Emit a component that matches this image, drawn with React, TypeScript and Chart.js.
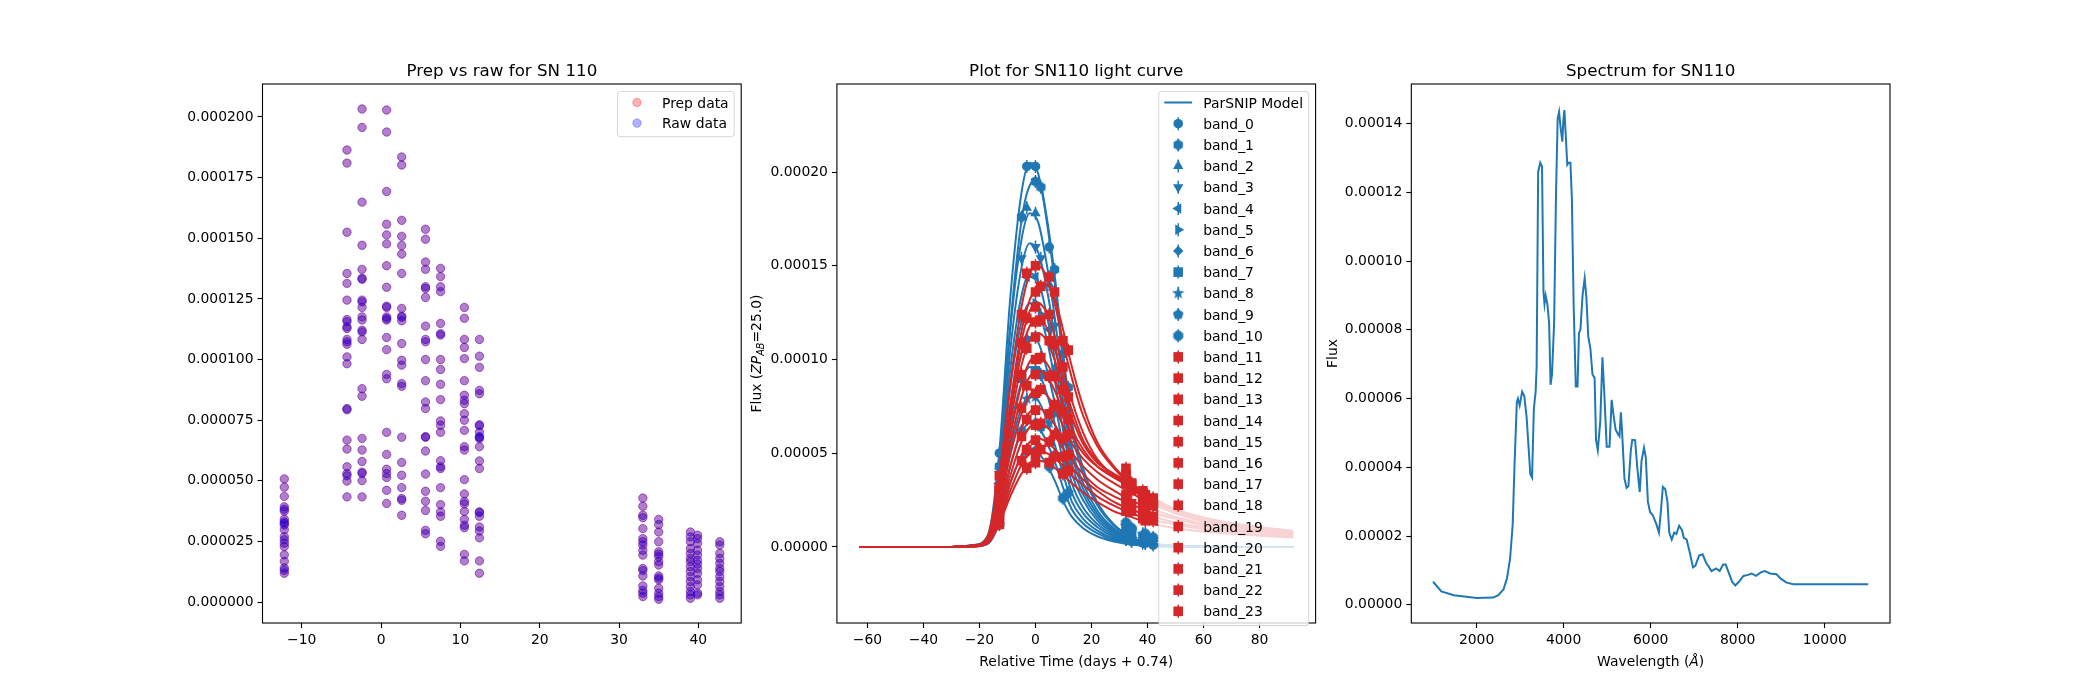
import React, { useEffect, useRef } from 'react';
import { Chart, registerables } from 'chart.js';
import { drawPoint } from 'chart.js/helpers';

Chart.register(...registerables);

const FONT = '"DejaVu Sans", sans-serif';
const C_BLUE = '#1f77b4';
const C_RED = '#d62728';
const FLUX_UNIT = 1e-5; // every flux list below is in units of 1e-5

// ---------- panel 1: prep vs raw ----------
const PREP_TIMES = [-12.2, -4.3, -2.4, 0.7, 2.6, 5.6, 7.5, 10.5, 12.4, 33.0, 35.0, 39.0, 39.9, 42.7];
const RAW_FLUX: number[][] = [
  [5.08, 4.74, 4.36, 3.93, 3.83, 3.75, 3.42, 3.31, 3.25, 3.18, 2.98, 2.7, 2.57, 2.43, 2.29, 1.95, 1.68, 1.41, 1.31, 1.19],
  [18.64, 18.1, 15.25, 13.55, 13.14, 12.45, 11.65, 11.56, 11.35, 11.28, 10.83, 10.73, 10.63, 10.11, 9.83, 7.98, 7.93, 6.68, 6.31, 5.58, 5.3, 5.21, 4.99, 4.34],
  [20.33, 19.57, 16.49, 14.71, 13.72, 13.35, 13.31, 12.45, 12.38, 12.15, 11.76, 11.63, 11.21, 11.14, 10.83, 8.8, 8.49, 6.75, 6.27, 5.8, 5.36, 5.3, 5.01, 4.34],
  [20.29, 19.38, 16.93, 15.58, 15.14, 14.77, 13.87, 12.98, 12.2, 12.15, 11.76, 11.69, 11.63, 10.91, 10.41, 9.39, 9.21, 7.0, 6.09, 5.48, 5.3, 5.14, 4.61, 4.07],
  [18.35, 18.02, 15.74, 15.08, 14.7, 14.35, 13.55, 12.11, 11.79, 11.74, 11.6, 10.66, 9.97, 9.77, 9.01, 8.9, 6.8, 5.76, 5.23, 4.72, 4.27, 4.2, 3.58],
  [15.37, 14.96, 14.02, 13.72, 13.0, 12.93, 12.56, 11.38, 10.83, 10.73, 10.0, 9.13, 8.25, 7.98, 6.82, 6.8, 6.23, 5.28, 4.57, 4.16, 3.78, 2.96, 2.82],
  [13.76, 13.42, 13.0, 12.8, 11.49, 11.07, 11.01, 10.0, 9.59, 8.98, 8.35, 7.47, 7.29, 7.0, 5.83, 5.58, 5.51, 4.72, 4.02, 3.72, 3.54, 2.51, 2.3],
  [12.15, 11.7, 10.83, 10.5, 10.04, 9.13, 8.53, 8.32, 8.18, 7.77, 7.5, 7.08, 6.41, 6.27, 5.05, 4.46, 4.15, 4.05, 3.74, 3.41, 3.17, 3.07, 1.97, 1.7],
  [10.83, 10.14, 9.68, 8.73, 8.59, 7.31, 7.27, 7.01, 6.82, 6.8, 6.74, 6.41, 5.82, 5.51, 3.72, 3.7, 3.54, 3.1, 2.93, 2.65, 1.7, 1.19],
  [4.29, 3.95, 3.58, 3.48, 3.03, 2.62, 2.49, 2.35, 2.14, 1.94, 1.39, 1.3, 1.08, 0.67, 0.48, 0.37, 0.23],
  [3.41, 3.2, 2.89, 2.49, 2.08, 1.98, 1.87, 1.67, 1.53, 1.08, 0.99, 0.92, 0.57, 0.37, 0.23, 0.12],
  [2.89, 2.69, 2.49, 2.21, 2.01, 1.8, 1.67, 1.46, 1.26, 1.05, 0.85, 0.64, 0.44, 0.3, 0.16],
  [2.76, 2.62, 2.42, 2.14, 1.94, 1.73, 1.57, 1.39, 1.19, 0.92, 0.71, 0.37, 0.3],
  [2.49, 2.35, 2.01, 1.8, 1.6, 1.39, 1.26, 1.05, 0.85, 0.64, 0.44, 0.3, 0.16],
];
// the preprocessed fluxes sit exactly on the raw ones in this plot
const PREP_FLUX = RAW_FLUX;
const PREP_X_RANGE = [-14.95, 45.4];
const PREP_Y_RANGE = [-0.0000086, 0.0002136];
const PREP_X_TICKS = [-10, 0, 10, 20, 30, 40];
const PREP_Y_TICKS = [0, 0.000025, 0.00005, 0.000075, 0.0001, 0.000125, 0.00015, 0.000175, 0.0002];

// ---------- panel 2: light curve ----------
const MODEL_TIMES = [-63, -30, -22, -17, -13, -9, -5, -2, 1, 4, 7, 10, 13, 17, 22, 28, 34, 40, 50, 65, 80, 92];
const MODEL_FLUX: number[][] = [
  [0, 0, 0.1, 0.62, 4.92, 13.3, 18.9, 20.5, 19.9, 17.4, 13.9, 9.6, 6.2, 3.9, 2.25, 1.13, 0.51, 0.2, 0.06, 0, 0, 0],
  [0, 0, 0.08, 0.5, 4.2, 11.8, 17.4, 19.3, 19.6, 17.6, 14.3, 10.2, 6.7, 4.2, 2.4, 1.2, 0.55, 0.22, 0.07, 0, 0, 0],
  [0, 0, 0.09, 0.53, 4.27, 11.6, 16.4, 17.8, 17.3, 15.1, 12.1, 8.4, 5.3, 3.4, 1.96, 0.98, 0.45, 0.18, 0.05, 0, 0, 0],
  [0, 0, 0.08, 0.49, 3.89, 10.5, 14.9, 16.2, 15.7, 13.8, 11.0, 7.6, 4.9, 3.1, 1.78, 0.89, 0.41, 0.16, 0.05, 0, 0, 0],
  [0, 0, 0.07, 0.44, 3.5, 9.5, 13.4, 14.6, 14.2, 12.4, 9.9, 6.9, 4.4, 2.8, 1.6, 0.8, 0.37, 0.15, 0.04, 0, 0, 0],
  [0, 0, 0.07, 0.39, 3.12, 8.5, 12.0, 13.0, 12.6, 11.1, 8.8, 6.1, 3.9, 2.5, 1.43, 0.72, 0.33, 0.13, 0.04, 0, 0, 0],
  [0, 0, 0.06, 0.34, 2.69, 7.3, 10.3, 11.2, 10.9, 9.5, 7.6, 5.3, 3.4, 2.1, 1.23, 0.62, 0.28, 0.11, 0.03, 0, 0, 0],
  [0, 0, 0.05, 0.29, 2.3, 6.2, 8.8, 9.6, 9.3, 8.2, 6.5, 4.5, 2.9, 1.8, 1.06, 0.53, 0.24, 0.1, 0.03, 0, 0, 0],
  [0, 0, 0.04, 0.24, 1.92, 5.2, 7.4, 8.0, 7.8, 6.8, 5.4, 3.8, 2.4, 1.5, 0.88, 0.44, 0.2, 0.08, 0.02, 0, 0, 0],
  [0, 0, 0.03, 0.2, 1.58, 4.3, 6.1, 6.6, 6.4, 5.6, 4.5, 3.1, 2.0, 1.25, 0.73, 0.36, 0.17, 0.07, 0.02, 0, 0, 0],
  [0, 0, 0.03, 0.16, 1.25, 3.4, 4.8, 5.2, 5.0, 4.4, 3.5, 2.4, 1.6, 1.0, 0.57, 0.29, 0.13, 0.05, 0.02, 0, 0, 0],
  [0, 0, 0.08, 0.6, 3.75, 8.7, 12.8, 14.6, 15.0, 14.4, 12.9, 10.8, 9.0, 7.0, 5.4, 4.2, 3.3, 2.6, 1.8, 1.2, 0.9, 0.7],
  [0, 0, 0.07, 0.5, 3.2, 7.6, 11.5, 13.2, 13.9, 14.0, 13.2, 11.5, 9.6, 7.5, 5.6, 4.3, 3.4, 2.7, 1.9, 1.3, 0.95, 0.75],
  [0, 0, 0.07, 0.5, 3.2, 7.5, 11.0, 12.6, 13.0, 12.5, 11.2, 9.4, 7.8, 6.1, 4.7, 3.8, 3.1, 2.5, 1.8, 1.2, 0.9, 0.7],
  [0, 0, 0.06, 0.5, 3.0, 7.0, 10.4, 11.8, 12.2, 11.7, 10.5, 8.8, 7.3, 5.7, 4.6, 3.8, 3.2, 2.6, 1.9, 1.3, 1.0, 0.8],
  [0, 0, 0.06, 0.45, 2.8, 6.6, 9.7, 11.0, 11.4, 11.0, 9.9, 8.3, 6.9, 5.5, 4.5, 3.9, 3.4, 2.8, 2.0, 1.4, 1.05, 0.85],
  [0, 0, 0.05, 0.4, 2.5, 5.9, 8.7, 9.9, 10.2, 9.8, 8.9, 7.5, 6.3, 5.2, 4.3, 3.7, 3.2, 2.6, 1.9, 1.3, 1.0, 0.8],
  [0, 0, 0.05, 0.38, 2.4, 5.5, 8.0, 9.1, 9.4, 9.1, 8.3, 7.1, 6.0, 5.0, 4.3, 3.8, 3.3, 2.7, 2.0, 1.4, 1.05, 0.85],
  [0, 0, 0.04, 0.34, 2.1, 4.9, 7.1, 8.1, 8.4, 8.1, 7.4, 6.4, 5.5, 4.7, 4.0, 3.4, 2.9, 2.4, 1.8, 1.3, 1.0, 0.8],
  [0, 0, 0.04, 0.3, 1.9, 4.3, 6.3, 7.2, 7.4, 7.1, 6.5, 5.7, 5.0, 4.3, 3.6, 3.0, 2.5, 2.1, 1.6, 1.1, 0.85, 0.7],
  [0, 0, 0.03, 0.27, 1.7, 3.8, 5.6, 6.4, 6.6, 6.4, 5.9, 5.2, 4.6, 3.9, 3.2, 2.7, 2.3, 1.9, 1.5, 1.0, 0.8, 0.65],
  [0, 0, 0.03, 0.24, 1.5, 3.4, 4.9, 5.6, 5.8, 5.6, 5.2, 4.7, 4.2, 3.6, 3.0, 2.4, 2.0, 1.7, 1.3, 0.95, 0.75, 0.6],
  [0, 0, 0.03, 0.22, 1.3, 3.0, 4.4, 5.0, 5.2, 5.0, 4.7, 4.3, 3.8, 3.3, 2.7, 2.2, 1.8, 1.5, 1.2, 0.85, 0.65, 0.55],
  [0, 0, 0.02, 0.2, 1.2, 2.7, 3.9, 4.5, 4.6, 4.5, 4.2, 3.8, 3.4, 2.9, 2.4, 1.9, 1.6, 1.3, 1.0, 0.75, 0.6, 0.5],
];
const OBS_TIMES = [-12.9, -5.0, -3.1, 0.0, 1.9, 4.9, 6.8, 9.8, 11.7, 32.3, 34.3, 38.3, 39.2, 42.0];
const OBS_FLUX: (number | null)[][] = [
  [5.0, null, 20.3, 20.3, null, 16.0, null, 10.3, null, 0.4, null, 0.2, null, 0.1],
  [4.3, 17.6, null, 19.5, 19.2, null, 14.8, null, 8.5, 0.4, 0.3, null, 0.2, null],
  [4.3, null, 18.1, 17.8, null, 14.0, null, 8.9, null, 0.5, null, 0.3, 0.2, 0.2],
  [3.9, 15.4, null, 16.0, 15.4, null, 11.8, null, 7.2, 0.6, 0.4, null, null, 0.2],
  [3.4, null, 14.4, 14.4, null, 11.6, null, 7.4, null, 0.7, null, 0.4, 0.3, null],
  [3.1, 12.2, null, 13.0, 12.4, null, 9.5, null, 5.6, null, 0.5, 0.4, null, 0.3],
  [2.7, null, 11.1, 11.2, null, 9.1, null, 5.6, null, 0.9, null, 0.5, 0.4, 0.3],
  [2.3, 9.0, null, 9.4, 9.2, null, 7.2, null, 4.3, 1.0, 0.8, null, 0.5, null],
  [1.9, null, 7.9, 8.0, null, 6.6, null, 4.1, null, 1.1, null, 0.7, null, 0.4],
  [1.6, 6.2, null, 6.6, 6.4, null, 4.9, null, 2.9, null, 0.9, 0.6, 0.6, null],
  [1.2, null, 5.1, 5.1, null, 4.3, null, 2.6, null, 1.3, 1.0, null, 0.7, 0.5],
  [3.8, null, 14.6, 15.0, null, 14.4, null, 11.0, null, 3.5, null, 2.8, null, 2.4],
  [3.2, 12.4, null, 13.6, 13.9, null, 13.6, null, 10.5, null, 3.4, null, 2.7, null],
  [3.1, null, 12.2, 12.8, null, 12.4, null, 9.6, null, 3.4, null, 2.6, null, 2.3],
  [3.0, 10.9, null, 12.0, 12.1, null, 10.8, null, 8.0, null, 3.3, 2.8, null, 2.5],
  [2.8, null, 10.6, 11.2, null, 11.0, null, 8.4, null, 3.8, null, 2.9, 2.8, null],
  [2.5, 9.2, null, 10.0, 10.1, null, 9.1, null, 6.8, 3.9, 3.4, null, 2.7, null],
  [2.4, null, 8.6, 9.2, null, 9.1, null, 7.2, null, 4.2, null, 3.0, null, 2.6],
  [2.1, 7.4, null, 8.2, 8.4, null, 7.6, null, 6.0, null, 3.0, 2.5, null, 2.2],
  [1.9, null, 6.8, 7.3, null, 7.1, null, 5.8, null, 2.8, null, 2.2, 2.1, null],
  [1.7, 5.9, null, 6.5, 6.6, null, 6.0, null, 4.9, 2.6, 2.3, null, 1.9, null],
  [1.5, null, 5.2, 5.7, null, 5.6, null, 4.8, null, 2.3, null, 1.8, null, 1.6],
  [1.3, 4.6, null, 5.0, 5.2, null, 4.8, null, 4.1, null, 1.9, 1.6, null, 1.4],
  [1.2, null, 4.2, 4.5, null, 4.5, null, 3.9, null, 1.9, null, 1.5, 1.4, null],
];
const OBS_ERR = 0.35;
const BAND_NAMES = MODEL_FLUX.map((_, i) => `band_${i}`);
const BAND_MARKERS = ['o', 'h', '^', 'v', '<', '>', 'd', 's', '*', 'p', '8', 's', 's', 's', 's', 's', 's', 's', 's', 's', 's', 's', 's', 's'];
const BLUE_BANDS = 11;
const LC_X_RANGE = [-70.9, 100];
const LC_Y_RANGE = [-0.0000406, 0.000247];
const LC_X_TICKS = [-60, -40, -20, 0, 20, 40, 60, 80];
const LC_Y_TICKS = [0, 0.00005, 0.0001, 0.00015, 0.0002];

// ---------- panel 3: spectrum ----------
const SPEC_WAVE = [
  1000, 1190, 1480, 2000, 2380, 2500, 2620, 2700, 2770, 2830,
  2870, 2925, 2950, 2990, 3047, 3096, 3150, 3235, 3275, 3316,
  3357, 3380, 3415, 3463, 3504, 3537, 3561, 3586, 3627, 3667,
  3700, 3733, 3782, 3823, 3863, 3896, 3929, 3970, 3994, 4018,
  4043, 4084, 4116, 4157, 4190, 4231, 4280, 4320, 4353, 4386,
  4435, 4484, 4525, 4566, 4615, 4663, 4712, 4745, 4786, 4843,
  4892, 4933, 4990, 5055, 5104, 5153, 5194, 5251, 5284, 5316,
  5341, 5398, 5447, 5488, 5545, 5578, 5643, 5692, 5749, 5790,
  5847, 5888, 5937, 5986, 6051, 6133, 6190, 6239, 6280, 6337,
  6386, 6427, 6484, 6541, 6590, 6655, 6720, 6761, 6826, 6892,
  6973, 7030, 7112, 7194, 7275, 7398, 7504, 7586, 7667, 7724,
  7790, 7871, 7945, 8027, 8133, 8239, 8320, 8418, 8541, 8622,
  8745, 8892, 8990, 9112, 9275, 9888, 11000,
];
const SPEC_FLUX = [
  0.67, 0.39, 0.28, 0.2, 0.21, 0.28, 0.45, 0.78, 1.34, 2.34,
  4.0, 5.9, 6.0, 5.8, 6.2, 6.07, 5.46, 3.8, 3.7, 5.7,
  6.2, 6.9, 12.6, 12.86, 12.75, 9.1, 8.75, 9.0, 8.75, 8.2,
  6.4, 6.7, 8.2, 11.8, 14.14, 14.34, 13.9, 13.47, 14.09, 14.39,
  13.8, 12.8, 12.86, 12.86, 11.8, 8.7, 6.35, 6.35, 7.9, 8.0,
  9.0, 9.5, 8.9, 7.8, 7.46, 6.7, 6.6, 4.8, 4.5, 5.35,
  7.2, 6.2, 4.6, 4.6, 5.96, 5.46, 5.1, 4.96, 4.9, 5.6,
  5.1, 3.67, 3.4, 3.45, 4.5, 4.8, 4.79, 4.0, 3.28, 4.18,
  4.57, 4.29, 3.0, 2.7, 2.6, 2.34, 2.1, 2.78, 3.43, 3.36,
  3.0, 2.1, 1.9, 2.1, 2.06, 2.3, 2.17, 1.95, 1.9, 1.56,
  1.09, 1.14, 1.43, 1.47, 1.22, 0.98, 1.06, 0.98, 1.17, 1.17,
  0.95, 0.67, 0.56, 0.67, 0.84, 0.87, 0.91, 0.84, 0.95, 0.98,
  0.91, 0.89, 0.76, 0.65, 0.6, 0.6, 0.6,
];
const SPEC_X_RANGE = [500, 11500];
const SPEC_Y_RANGE = [-0.0000053, 0.0001515];
const SPEC_X_TICKS = [2000, 4000, 6000, 8000, 10000];
const SPEC_Y_TICKS = [0, 0.00002, 0.00004, 0.00006, 0.00008, 0.0001, 0.00012, 0.00014];

// ---------- layout (matplotlib default subplot box for a 21x7 in figure) ----------
const CANVAS_TOP = 40;
const CANVAS_H = 650;
const AX_TOP = 84;
const AX_BOTTOM = 623;
const TICK_FONT = 13.9;

type Seg = { text: string; italic?: boolean; sub?: boolean };
type LegendEntry = { label: string; handle: (ctx: CanvasRenderingContext2D, x: number, y: number) => void };
type Geom = { canvasLeft: number; width: number; yAxisW: number; xAxisH: number; padTop: number; padRight: number };

function geometry(canvasLeft: number, axLeft: number, axRight: number): Geom {
  const width = Math.ceil(axRight + 20 - canvasLeft);
  return {
    canvasLeft,
    width,
    yAxisW: axLeft - canvasLeft,
    xAxisH: CANVAS_TOP + CANVAS_H - AX_BOTTOM,
    padTop: AX_TOP - CANVAS_TOP,
    padRight: width - (axRight - canvasLeft),
  };
}

const fmt = (v: number, d: number) => v.toFixed(d).replace('-', '\u2212');

function axis(which: 'x' | 'y', range: number[], ticks: number[], decimals: number, g: Geom) {
  return {
    type: 'linear',
    position: which === 'x' ? 'bottom' : 'left',
    min: range[0],
    max: range[1],
    afterBuildTicks: (s: any) => {
      s.ticks = ticks.map((v) => ({ value: v }));
    },
    afterFit: (s: any) => {
      if (which === 'x') s.height = g.xAxisH;
      else s.width = g.yAxisW;
    },
    ticks: {
      color: '#000',
      font: { family: FONT, size: TICK_FONT },
      padding: 4,
      autoSkip: false,
      maxRotation: 0,
      minRotation: 0,
      callback: (v: any) => fmt(Number(v), decimals),
    },
    grid: { display: true, drawOnChartArea: false, drawTicks: true, tickLength: 5, tickWidth: 1.1, tickColor: '#000', color: '#000' },
    border: { display: false },
  };
}

function drawRich(ctx: CanvasRenderingContext2D, segs: Seg[], x: number, y: number, size: number, vertical: boolean) {
  ctx.save();
  ctx.translate(x, y);
  if (vertical) ctx.rotate(-Math.PI / 2);
  const fontOf = (s: Seg) => `${s.italic ? 'italic ' : ''}${s.sub ? size * 0.7 : size}px ${FONT}`;
  const widths = segs.map((s) => {
    ctx.font = fontOf(s);
    return ctx.measureText(s.text).width;
  });
  let cx = -widths.reduce((a, b) => a + b, 0) / 2;
  ctx.fillStyle = '#000';
  ctx.textAlign = 'left';
  ctx.textBaseline = 'alphabetic';
  segs.forEach((s, i) => {
    ctx.font = fontOf(s);
    ctx.fillText(s.text, cx, size * 0.36 + (s.sub ? size * 0.22 : 0));
    cx += widths[i];
  });
  ctx.restore();
}

function drawLegend(ctx: CanvasRenderingContext2D, area: any, entries: LegendEntry[], rowH: number) {
  const pad = 5.6, handleW = 27.8, gap = 11.1;
  ctx.save();
  ctx.font = `${TICK_FONT}px ${FONT}`;
  const textW = Math.max(...entries.map((e) => ctx.measureText(e.label).width));
  const w = pad + handleW + gap + textW + pad;
  const h = entries.length * rowH + 4;
  const right = area.right - 7;
  const top = area.top + 7.5;
  const left = right - w;
  ctx.beginPath();
  ctx.roundRect(left, top, w, h, 2.8);
  ctx.fillStyle = 'rgba(255,255,255,0.8)';
  ctx.fill();
  ctx.strokeStyle = 'rgba(204,204,204,0.8)';
  ctx.lineWidth = 1;
  ctx.stroke();
  entries.forEach((e, i) => {
    const y = top + 11 + i * rowH;
    ctx.save();
    e.handle(ctx, left + pad + handleW / 2, y);
    ctx.restore();
    ctx.fillStyle = '#000';
    ctx.font = `${TICK_FONT}px ${FONT}`;
    ctx.textAlign = 'left';
    ctx.textBaseline = 'alphabetic';
    ctx.fillText(e.label, left + pad + handleW + gap, y + 5);
  });
  ctx.restore();
}

function framePlugin(opts: { title: string; xLabel?: Seg[]; yLabel?: Seg[]; yLabelOffset?: number; legend?: LegendEntry[]; legendRow?: number }) {
  return {
    id: 'mplFrame',
    beforeDatasetDraw(chart: any, args: any) {
      const ds = chart.data.datasets[args.index];
      if (!ds.errorY) return;
      const ctx = chart.ctx;
      const yScale = chart.scales.y;
      const meta = chart.getDatasetMeta(args.index);
      ctx.save();
      ctx.strokeStyle = ds.pointBackgroundColor;
      ctx.lineWidth = 1.5;
      meta.data.forEach((pt: any, k: number) => {
        const v = ds.data[k].y;
        ctx.beginPath();
        ctx.moveTo(pt.x, yScale.getPixelForValue(v - ds.errorY));
        ctx.lineTo(pt.x, yScale.getPixelForValue(v + ds.errorY));
        ctx.stroke();
      });
      ctx.restore();
    },
    afterDatasetsDraw(chart: any) {
      const { ctx, chartArea: a } = chart;
      ctx.save();
      ctx.strokeStyle = '#000';
      ctx.lineWidth = 1.1;
      ctx.strokeRect(a.left, a.top, a.right - a.left, a.bottom - a.top);
      ctx.restore();
      if (opts.legend) drawLegend(ctx, a, opts.legend, opts.legendRow || 20.8);
    },
    afterDraw(chart: any) {
      const { ctx, chartArea: a } = chart;
      ctx.save();
      ctx.fillStyle = '#000';
      ctx.font = `16.7px ${FONT}`;
      ctx.textAlign = 'center';
      ctx.textBaseline = 'alphabetic';
      ctx.fillText(opts.title, (a.left + a.right) / 2, a.top - 8.5);
      ctx.restore();
      if (opts.xLabel) drawRich(ctx, opts.xLabel, (a.left + a.right) / 2, a.bottom + 38, TICK_FONT, false);
      if (opts.yLabel) drawRich(ctx, opts.yLabel, a.left - (opts.yLabelOffset || 80), (a.top + a.bottom) / 2, TICK_FONT, true);
    },
  };
}

function baseOptions(g: Geom, x: any, y: any) {
  return {
    responsive: false,
    animation: false,
    events: [],
    layout: { padding: { top: g.padTop, right: g.padRight, left: 0, bottom: 0 } },
    plugins: { legend: { display: false }, tooltip: { enabled: false }, title: { display: false } },
    scales: { x, y },
  };
}

function polygonMarker(points: number, r: number, color: string, inner = 0, offset = -Math.PI / 2) {
  const size = Math.ceil(2 * r + 2);
  const c = document.createElement('canvas');
  c.width = size;
  c.height = size;
  const g = c.getContext('2d')!;
  g.fillStyle = color;
  g.beginPath();
  const n = inner ? points * 2 : points;
  for (let k = 0; k < n; k++) {
    const rr = inner && k % 2 ? r * inner : r;
    const ang = offset + (k * 2 * Math.PI) / n;
    g.lineTo(size / 2 + rr * Math.cos(ang), size / 2 + rr * Math.sin(ang));
  }
  g.closePath();
  g.fill();
  return c;
}

function markerFor(code: string, color: string): { style: any; rotation: number; radius: number } {
  switch (code) {
    case 'o': return { style: 'circle', rotation: 0, radius: 4.8 };
    case 'h': return { style: polygonMarker(6, 5.4, color), rotation: 0, radius: 5 };
    case '^': return { style: 'triangle', rotation: 0, radius: 6 };
    case 'v': return { style: 'triangle', rotation: 180, radius: 6 };
    case '<': return { style: 'triangle', rotation: 270, radius: 6 };
    case '>': return { style: 'triangle', rotation: 90, radius: 6 };
    case 'd': return { style: 'rectRot', rotation: 0, radius: 5.2 };
    case '*': return { style: polygonMarker(5, 6.6, color, 0.42), rotation: 0, radius: 6 };
    case 'p': return { style: polygonMarker(5, 5.6, color), rotation: 0, radius: 5 };
    case '8': return { style: polygonMarker(8, 5.4, color, 0, Math.PI / 8), rotation: 0, radius: 5 };
    default: return { style: 'rect', rotation: 0, radius: 6.8 };
  }
}

const PREP_GEOM = geometry(120, 262.5, 741.2);
const LC_GEOM = geometry(745, 836.9, 1315.6);
const SPEC_GEOM = geometry(1320, 1411.3, 1890);

function scatterPoints(times: number[], cols: number[][]) {
  const pts: { x: number; y: number }[] = [];
  cols.forEach((col, i) => col.forEach((f) => pts.push({ x: times[i], y: f * FLUX_UNIT })));
  return pts;
}

function buildPrep() {
  const g = PREP_GEOM;
  const red = 'rgba(255,0,0,0.3)';
  const blue = 'rgba(0,0,255,0.3)';
  const dot = (c: string) => (ctx: CanvasRenderingContext2D, x: number, y: number) => {
    ctx.fillStyle = c;
    ctx.strokeStyle = c;
    ctx.lineWidth = 1;
    drawPoint(ctx, { pointStyle: 'circle', radius: 4.2, borderWidth: 1, rotation: 0 } as any, x, y);
  };
  return {
    type: 'scatter',
    data: {
      datasets: [
        // higher order is drawn first, so raw ends up on top of prep as in matplotlib
        { label: 'Prep data', order: 1, data: scatterPoints(PREP_TIMES, PREP_FLUX), pointRadius: 4.2, pointBackgroundColor: red, pointBorderColor: red, pointBorderWidth: 1 },
        { label: 'Raw data', order: 0, data: scatterPoints(PREP_TIMES, RAW_FLUX), pointRadius: 4.2, pointBackgroundColor: blue, pointBorderColor: blue, pointBorderWidth: 1 },
      ],
    },
    options: baseOptions(g, axis('x', PREP_X_RANGE, PREP_X_TICKS, 0, g), axis('y', PREP_Y_RANGE, PREP_Y_TICKS, 6, g)),
    plugins: [framePlugin({
      title: 'Prep vs raw for SN 110',
      legend: [{ label: 'Prep data', handle: dot(red) }, { label: 'Raw data', handle: dot(blue) }],
      legendRow: 20.6,
    })],
  };
}

function buildLightCurve() {
  const g = LC_GEOM;
  const datasets: any[] = [];
  const legend: LegendEntry[] = [{
    label: 'ParSNIP Model',
    handle: (ctx, x, y) => {
      ctx.strokeStyle = C_BLUE;
      ctx.lineWidth = 2;
      ctx.beginPath();
      ctx.moveTo(x - 13.9, y);
      ctx.lineTo(x + 13.9, y);
      ctx.stroke();
    },
  }];
  MODEL_FLUX.forEach((curve, i) => {
    const color = i < BLUE_BANDS ? C_BLUE : C_RED;
    const m = markerFor(BAND_MARKERS[i], color);
    datasets.push({
      label: `model_${i}`,
      data: MODEL_TIMES.map((t, j) => ({ x: t, y: curve[j] * FLUX_UNIT })),
      showLine: true,
      borderColor: color,
      borderWidth: 2,
      pointRadius: 0,
      cubicInterpolationMode: 'monotone',
      fill: false,
    });
    const obs: { x: number; y: number }[] = [];
    OBS_TIMES.forEach((t, j) => {
      const f = OBS_FLUX[i][j];
      if (f !== null) obs.push({ x: t, y: f * FLUX_UNIT });
    });
    datasets.push({
      label: BAND_NAMES[i],
      data: obs,
      showLine: false,
      pointStyle: m.style,
      pointRotation: m.rotation,
      pointRadius: m.radius,
      pointBackgroundColor: color,
      pointBorderColor: color,
      pointBorderWidth: 0,
      errorY: OBS_ERR * FLUX_UNIT,
    });
    legend.push({
      label: BAND_NAMES[i],
      handle: (ctx, x, y) => {
        ctx.strokeStyle = color;
        ctx.lineWidth = 1.5;
        ctx.beginPath();
        ctx.moveTo(x, y - 6.5);
        ctx.lineTo(x, y + 6.5);
        ctx.stroke();
        ctx.fillStyle = color;
        drawPoint(ctx, { pointStyle: m.style, rotation: m.rotation, radius: m.radius, borderWidth: 0 } as any, x, y);
      },
    });
  });
  // later bands are painted over earlier ones, like successive matplotlib calls
  datasets.forEach((ds, k) => { ds.order = datasets.length - k; });
  return {
    type: 'scatter',
    data: { datasets },
    options: baseOptions(g, axis('x', LC_X_RANGE, LC_X_TICKS, 0, g), axis('y', LC_Y_RANGE, LC_Y_TICKS, 5, g)),
    plugins: [framePlugin({
      title: 'Plot for SN110 light curve',
      xLabel: [{ text: 'Relative Time (days + 0.74)' }],
      yLabel: [{ text: 'Flux (' }, { text: 'ZP', italic: true }, { text: 'AB', italic: true, sub: true }, { text: '=25.0)' }],
      yLabelOffset: 81,
      legend,
      legendRow: 21.2,
    })],
  };
}

function buildSpectrum() {
  const g = SPEC_GEOM;
  return {
    type: 'scatter',
    data: {
      datasets: [{
        label: 'spectrum',
        data: SPEC_WAVE.map((w, i) => ({ x: w, y: SPEC_FLUX[i] * FLUX_UNIT })),
        showLine: true,
        borderColor: C_BLUE,
        borderWidth: 2,
        pointRadius: 0,
        tension: 0,
        fill: false,
      }],
    },
    options: baseOptions(g, axis('x', SPEC_X_RANGE, SPEC_X_TICKS, 0, g), axis('y', SPEC_Y_RANGE, SPEC_Y_TICKS, 5, g)),
    plugins: [framePlugin({
      title: 'Spectrum for SN110',
      xLabel: [{ text: 'Wavelength (' }, { text: 'Å', italic: true }, { text: ')' }],
      yLabel: [{ text: 'Flux' }],
      yLabelOffset: 79,
    })],
  };
}

function Panel({ geom, build }: { geom: Geom; build: () => any }) {
  const canvasRef = useRef<HTMLCanvasElement | null>(null);

  useEffect(() => {
    if (!canvasRef.current) return;
    const chart = new Chart(canvasRef.current, build());
    return () => chart.destroy();
  }, [build]);

  return (
    <canvas
      ref={canvasRef}
      width={geom.width}
      height={CANVAS_H}
      style={{ position: 'absolute', left: geom.canvasLeft, top: CANVAS_TOP, width: geom.width, height: CANVAS_H }}
    />
  );
}

export default function App() {
  return (
    <div style={{ position: 'absolute', left: 0, top: 0, width: 2100, height: 700, background: '#fff', overflow: 'hidden' }}>
      <Panel geom={PREP_GEOM} build={buildPrep} />
      <Panel geom={LC_GEOM} build={buildLightCurve} />
      <Panel geom={SPEC_GEOM} build={buildSpectrum} />
    </div>
  );
}
